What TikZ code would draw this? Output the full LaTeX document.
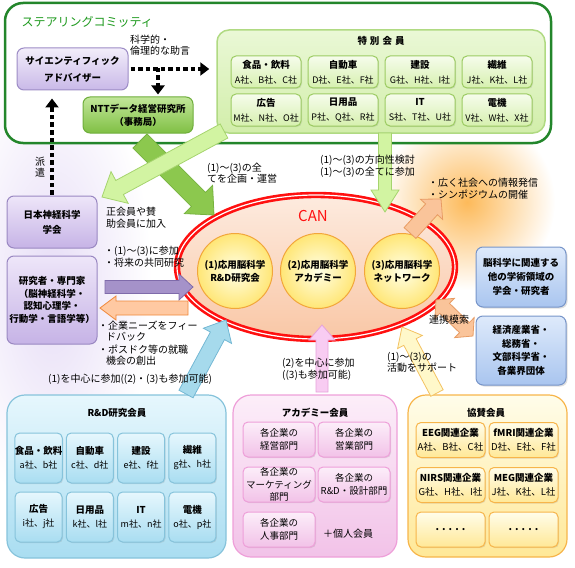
\documentclass[tikz,border=0pt]{standalone}
\usepackage{fontspec}
\setmainfont{Noto Sans CJK JP}
\usetikzlibrary{calc, positioning, arrows.meta, shapes.geometric, shadows}

\definecolor{scgreen}{HTML}{23862B}
\definecolor{sctext}{HTML}{1E9A1E}
\definecolor{advtop}{HTML}{F2EDFA}
\definecolor{advbot}{HTML}{C9B9E8}
\definecolor{advline}{HTML}{9D8CC6}
\definecolor{ntttop}{HTML}{C2E69A}
\definecolor{nttbot}{HTML}{80C044}
\definecolor{nttline}{HTML}{6FAE3C}
\definecolor{sptop}{HTML}{EAF8D6}
\definecolor{spbot}{HTML}{D2EEAA}
\definecolor{spline}{HTML}{B0DA82}
\definecolor{spsubtop}{HTML}{F6FCEC}
\definecolor{spsubbot}{HTML}{D6F0AE}
\definecolor{spsubline}{HTML}{9CCB62}
\definecolor{lgreen}{HTML}{D2F4A2}
\definecolor{lgreenline}{HTML}{A6D46E}
\definecolor{mgreen}{HTML}{8CC84E}
\definecolor{mgreenline}{HTML}{76B23E}
\definecolor{purtop}{HTML}{EEE6F9}
\definecolor{purbot}{HTML}{C6B3E6}
\definecolor{purline}{HTML}{9A88C2}
\definecolor{purarrow}{HTML}{A592C9}
\definecolor{purarrowline}{HTML}{7F6BAA}
\definecolor{orarrow}{HTML}{FFC9A2}
\definecolor{orarrowline}{HTML}{F0883A}
\definecolor{cantop}{HTML}{FDEBDF}
\definecolor{canbot}{HTML}{F9C7A6}
\definecolor{canred}{HTML}{FF1010}
\definecolor{cirin}{HTML}{FFFFE6}
\definecolor{cirout}{HTML}{FFE676}
\definecolor{cirline}{HTML}{F2A63A}
\definecolor{bluearrow}{HTML}{A6DAEC}
\definecolor{bluearrowline}{HTML}{74B8D4}
\definecolor{pinkarrow}{HTML}{F8CCF2}
\definecolor{pinkarrowline}{HTML}{E6A2DA}
\definecolor{yelarrow}{HTML}{FFF8CA}
\definecolor{yelarrowline}{HTML}{F3C262}
\definecolor{peach}{HTML}{FAC49A}
\definecolor{peachline}{HTML}{E89C64}
\definecolor{glow}{HTML}{FDBA5A}
\definecolor{glowpur}{HTML}{E6DCF6}
\definecolor{bltop}{HTML}{DEEAFB}
\definecolor{blbot}{HTML}{A9C5EF}
\definecolor{blline}{HTML}{7795C9}
\definecolor{rdtop}{HTML}{E6F7FD}
\definecolor{rdbot}{HTML}{A9DDF1}
\definecolor{rdline}{HTML}{86C3DB}
\definecolor{actop}{HTML}{FCEEF9}
\definecolor{acbot}{HTML}{F2C2E8}
\definecolor{acline}{HTML}{EE9FD9}
\definecolor{kytop}{HTML}{FFFDEA}
\definecolor{kybot}{HTML}{FFE897}
\definecolor{kyline}{HTML}{F7B54A}

% fat arrow: [style]{tail}{tip}{half shaft}{half head}{head length}
\newcommand{\fatarrow}[6][]{%
  \coordinate (fa-neck) at ($(#3)!#6!(#2)$);
  \draw[#1] ($(#2)!#4!90:(#3)$) -- ($(fa-neck)!#4!90:(#3)$) -- ($(fa-neck)!#5!90:(#3)$)
    -- (#3) -- ($(fa-neck)!#5!-90:(#3)$) -- ($(fa-neck)!#4!-90:(#3)$)
    -- ($(#2)!#4!-90:(#3)$) -- cycle;}
% fat arrow with two heads
\newcommand{\fatdarrow}[6][]{%
  \coordinate (fa-necka) at ($(#2)!#6!(#3)$);
  \coordinate (fa-neckb) at ($(#3)!#6!(#2)$);
  \draw[#1] (#2) -- ($(fa-necka)!#5!90:(#3)$) -- ($(fa-necka)!#4!90:(#3)$)
    -- ($(fa-neckb)!#4!90:(#3)$) -- ($(fa-neckb)!#5!90:(#3)$) -- (#3)
    -- ($(fa-neckb)!#5!-90:(#3)$) -- ($(fa-neckb)!#4!-90:(#3)$)
    -- ($(fa-necka)!#4!-90:(#3)$) -- ($(fa-necka)!#5!-90:(#3)$) -- cycle;}

\begin{document}
\begin{tikzpicture}[
    x=1pt, y=-1pt,
    font=\fontsize{10}{11.5}\selectfont,
    >=Latex,
    box/.style={draw, rounded corners=7pt, align=center, inner sep=1pt, line width=1pt,
        font=\fontsize{9.5}{13}\selectfont\bfseries},
    frame/.style={draw, rounded corners=18pt, line width=1.2pt},
    subbox/.style={draw, rounded corners=5pt, align=center, inner sep=0pt, line width=1pt,
        drop shadow={opacity=0.2, shadow xshift=1pt, shadow yshift=-1pt}},
    grptitle/.style={font=\fontsize{9.5}{11}\selectfont\bfseries},
    note/.style={anchor=west, align=left, inner sep=0pt},
    dotarrow/.style={line width=4.5pt, dash pattern=on 4.5pt off 3pt,
        -{Triangle[width=13pt,length=9pt]}},
    arrlgreen/.style={fill=lgreen, draw=lgreenline, line width=0.8pt},
    arrmgreen/.style={fill=mgreen, draw=mgreenline, line width=0.8pt},
    arrpur/.style={fill=purarrow, draw=purarrowline, line width=0.8pt},
    arror/.style={fill=orarrow, draw=orarrowline, line width=0.8pt},
    arrblue/.style={fill=bluearrow, draw=bluearrowline, line width=0.8pt},
    arrpink/.style={fill=pinkarrow, draw=pinkarrowline, line width=0.8pt},
    arryel/.style={fill=yelarrow, draw=yelarrowline, line width=0.8pt},
    arrpeach/.style={fill=peach, draw=peachline, line width=0.8pt}
]
    \useasboundingbox (0,0) rectangle (575,567);

    % Glows
    \shade[inner color=glowpur, outer color=white] (52,285) ellipse (100 and 230);
    \shade[inner color=glow, outer color=white] (467,202) circle (88);

    % Steering committee
    \node [frame, draw=scgreen, line width=2.5pt, fill=white, minimum width=546pt, minimum height=140pt] (steer) at (278,73) {};
    \node [anchor=west, text=sctext, font=\fontsize{12}{13}\selectfont] (steer-title) at (18,22) {ステアリングコミッティ};

    \node [box, top color=advtop, bottom color=advbot, draw=advline, minimum width=111pt, minimum height=42pt,
        font=\fontsize{9.5}{17}\selectfont\bfseries] (advisor) at (72.5,69) {サイエンティフィック\\アドバイザー};
    \node [box, top color=ntttop, bottom color=nttbot, draw=nttline, minimum width=110pt, minimum height=36pt] (ntt) at (138,115) {NTTデータ経営研究所\\（事務局）};

    % Special members
    \node [frame, rounded corners=12pt, top color=sptop, bottom color=spbot, draw=spline, line width=1.5pt,
        minimum width=328pt, minimum height=103pt] (special) at (381,81.5) {};
    \node [grptitle] (sp-title) at (381,41) {特\hspace{3pt}別\hspace{3pt}会\hspace{3pt}員};
    \foreach \grp/\firms [count=\i from 0] in {食品・飲料/A社、B社、C社, 自動車/D社、E社、F社,
        建設/G社、H社、I社, 繊維/J社、K社、L社, 広告/M社、N社、O社, 日用品/P社、Q社、R社,
        IT/S社、T社、U社, 電機/V社、W社、X社}
        \node [subbox, top color=spsubtop, bottom color=spsubbot, draw=spsubline, minimum width=70pt, minimum height=32pt,
            font=\fontsize{9.5}{15}\selectfont\bfseries] (sp-\i) at ({266+mod(\i,4)*77}, {72+int(\i/4)*38})
            {\grp\\{\mdseries\fontsize{9}{15}\selectfont\firms}};

    % CAN
    \node [ellipse, draw=canred, line width=2.6pt, double=white, double distance=1.2pt, top color=cantop, bottom color=canbot,
        minimum width=278pt, minimum height=144pt] (can) at (316,267) {};
    \node [text=canred, font=\fontsize{15}{15}\selectfont] (can-title) at (313,216) {CAN};
    \node [circle, draw=cirline, line width=1pt, inner color=cirin, outer color=cirout, minimum size=75pt, align=center,
        font=\fontsize{9.5}{13}\selectfont\bfseries] (rd-circ) at (235,271) {(1)応用脳科学\\R\&D研究会};
    \node [circle, draw=cirline, line width=1pt, inner color=cirin, outer color=cirout, minimum size=75pt, align=center,
        font=\fontsize{9.5}{13}\selectfont\bfseries, right=7pt of rd-circ] (ac-circ) {(2)応用脳科学\\アカデミー};
    \node [circle, draw=cirline, line width=1pt, inner color=cirin, outer color=cirout, minimum size=75pt, align=center,
        font=\fontsize{9.5}{13}\selectfont\bfseries, right=8pt of ac-circ] (nw-circ) {(3)応用脳科学\\ネットワーク};

    % Left side
    \node [box, top color=purtop, bottom color=purbot, draw=purline, minimum width=90pt, minimum height=52pt,
        font=\fontsize{9.5}{15}\selectfont\bfseries] (nihon) at (52,222) {日本神経科学\\学会};
    \node [box, top color=purtop, bottom color=purbot, draw=purline, minimum width=90pt, minimum height=88pt,
        font=\fontsize{9.5}{12.7}\selectfont\bfseries, below=7pt of nihon] (research)
        {研究者・専門家\\（脳神経科学・\\認知心理学・\\行動学・言語学等）};

    % Right side
    \node [box, top color=bltop, bottom color=blbot, draw=blline, minimum width=90pt, minimum height=60pt,
        font=\fontsize{9.5}{14}\selectfont\bfseries, drop shadow={opacity=0.25, shadow xshift=1.5pt, shadow yshift=-1.5pt}] (relate) at (521,277)
        {脳科学に関連する\\他の学術領域の\\学会・研究者};
    \node [box, top color=bltop, bottom color=blbot, draw=blline, minimum width=90pt, minimum height=69pt,
        font=\fontsize{9.5}{13.5}\selectfont\bfseries, drop shadow={opacity=0.25, shadow xshift=1.5pt, shadow yshift=-1.5pt}] (gov) at (521,350.5)
        {経済産業省・\\総務省・\\文部科学省・\\各業界団体};

    % R&D members
    \node [frame, top color=rdtop, bottom color=rdbot, draw=rdline, minimum width=219pt, minimum height=163pt] (rd) at (116.5,476.5) {};
    \node [grptitle] (rd-title) at (117,413) {R\&D研究会員};
    \foreach \grp/\firms [count=\i from 0] in {食品・飲料/a社、b社, 自動車/c社、d社, 建設/e社、f社, 繊維/g社、h社,
        広告/i社、j社, 日用品/k社、l社, IT/m社、n社, 電機/o社、p社}
        \node [subbox, top color=rdtop, bottom color=rdbot, draw=rdline, minimum width=47pt, minimum height=50pt,
            font=\fontsize{9.5}{14}\selectfont\bfseries] (rd-\i) at ({38.5+mod(\i,4)*51.3}, {458+int(\i/4)*59})
            {\grp\\{\mdseries\fontsize{9}{14}\selectfont\firms}};

    % Academy members
    \node [frame, top color=actop, bottom color=acbot, draw=acline, minimum width=164pt, minimum height=162pt] (academy) at (315,476) {};
    \node [grptitle] (ac-title) at (315,413) {アカデミー会員};
    \foreach \txt/\px/\py [count=\i] in {{各企業の\\経営部門}/279/439.5, {各企業の\\営業部門}/354/439.5,
        {各企業の\\マーケティング\\部門}/279/484.5, {各企業の\\R\&D・設計部門}/354/484.5, {各企業の\\人事部門}/279/529.5}
        \node [subbox, top color=actop, bottom color=acbot, draw=acline, minimum width=72pt, minimum height=35pt,
            font=\fontsize{9.5}{12.5}\selectfont] (ac-\i) at (\px,\py) {\txt};
    \node (ac-person) at (348,534) {＋個人会員};

    % Sponsor members
    \node [frame, top color=kytop, bottom color=kybot, draw=kyline, minimum width=159pt, minimum height=162pt] (sponsor) at (487.5,476) {};
    \node [grptitle] (ky-title) at (486,413) {協賛会員};
    \foreach \grp/\firms/\px/\py [count=\i] in {EEG関連企業/A社、B社、C社/450.5/440, fMRI関連企業/D社、E社、F社/523.5/440,
        NIRS関連企業/G社、H社、I社/450.5/485, MEG関連企業/J社、K社、L社/523.5/485}
        \node [subbox, top color=kytop, bottom color=kybot, draw=kyline, minimum width=69pt, minimum height=35pt,
            font=\fontsize{9.5}{14}\selectfont\bfseries] (ky-\i) at (\px,\py)
            {\grp\\{\mdseries\fontsize{9.5}{14}\selectfont\firms}};
    \node [subbox, top color=kytop, bottom color=kybot, draw=kyline, minimum width=69pt, minimum height=35pt,
        font=\bfseries] (ky-5) at (450.5,529.5) {. . . . .};
    \node [subbox, top color=kytop, bottom color=kybot, draw=kyline, minimum width=69pt, minimum height=35pt,
        font=\bfseries] (ky-6) at (523.5,529.5) {. . . . .};

    % Block arrows
    \coordinate (ntt-out) at (140,141);
    \coordinate (can-nw) at (214,215);
    \coordinate (sp-out) at (224,131);
    \coordinate (nihon-in) at (102,197);
    \coordinate (sp-down) at (385,133);
    \coordinate (can-n) at (385,212);
    \coordinate (res-out) at (105,287);
    \coordinate (can-w) at (193,287);
    \coordinate (can-back) at (188,308);
    \coordinate (res-in) at (100,308);
    \coordinate (rd-up) at (186,394);
    \coordinate (can-sw) at (226,320);
    \coordinate (ac-up) at (322,392);
    \coordinate (can-s) at (322,325);
    \coordinate (ky-up) at (437,393);
    \coordinate (can-se) at (402,327);
    \coordinate (can-ne) at (410,233);
    \coordinate (glow-in) at (441,199);
    \coordinate (link-a) at (436,300);
    \coordinate (link-b) at (473,336);

    \fatarrow[arrmgreen]{ntt-out}{can-nw}{10pt}{20pt}{22pt}
    \fatarrow[arrlgreen]{sp-out}{nihon-in}{8pt}{18pt}{20pt}
    \fatarrow[arrlgreen]{sp-down}{can-n}{6.5pt}{14pt}{22pt}
    \fatarrow[arrpur]{res-out}{can-w}{6.5pt}{13pt}{14pt}
    \fatarrow[arror]{can-back}{res-in}{7pt}{12pt}{16pt}
    \fatarrow[arrblue]{rd-up}{can-sw}{8pt}{16pt}{18pt}
    \fatarrow[arrpink]{ac-up}{can-s}{6pt}{13pt}{15pt}
    \fatarrow[arryel]{ky-up}{can-se}{7pt}{14pt}{17pt}
    \fatarrow[arrpeach]{can-ne}{glow-in}{8pt}{15pt}{14pt}
    \fatdarrow[arrpeach]{link-a}{link-b}{7pt}{14pt}{12pt}

    % Dotted arrows
    \coordinate (adv-tap) at (158,68);
    \draw [dotarrow, shorten <=2pt, shorten >=7pt] (advisor.east) -- (special.west |- advisor.east);
    \draw [dotarrow, shorten >=2pt] (adv-tap) -- (adv-tap |- ntt.north);
    \draw [dotarrow, shorten <=1pt, shorten >=8pt] (nihon.north) -- (nihon.north |- advisor.south);

    % Labels
    \node [note] (lbl-advice) at (130,45) {科学的・\\倫理的な助言};
    \node [align=center, inner sep=0pt, font=\fontsize{10}{11}\selectfont] (lbl-dispatch) at (40,167.5) {派\\遣};
    \node [note] (lbl-plan) at (207,173) {(1)～(3)の全\\てを企画・運営};
    \node [note] (lbl-dir) at (320,166.5) {(1)～(3)の方向性検討\\(1)～(3)の全てに参加};
    \node [note] (lbl-join) at (106,217.5) {正会員や賛\\助会員に加入};
    \node [note] (lbl-res) at (104,256.5) {・(1)～(3)に参加\\・将来の共同研究};
    \node [note] (lbl-needs) at (98,331) {・企業ニーズをフィー\\\hspace*{8pt}ドバック};
    \node [note] (lbl-post) at (98,355) {・ポスドク等の就職\\\hspace*{8pt}機会の創出};
    \node [note] (lbl-rd) at (48,379) {(1)を中心に参加((2)・(3)も参加可能)};
    \node [note] (lbl-ac) at (282,369.5) {(2)を中心に参加\\((3)も参加可能)};
    \node [note] (lbl-ky) at (387,362.5) {(1)～(3)の\\活動をサポート};
    \node [note] (lbl-glow) at (428,188.5) {・広く社会への情報発信\\・シンポジウムの開催};
    \node [inner sep=0pt] (lbl-link) at (449,320) {連携模索};

\end{tikzpicture}
\end{document}
